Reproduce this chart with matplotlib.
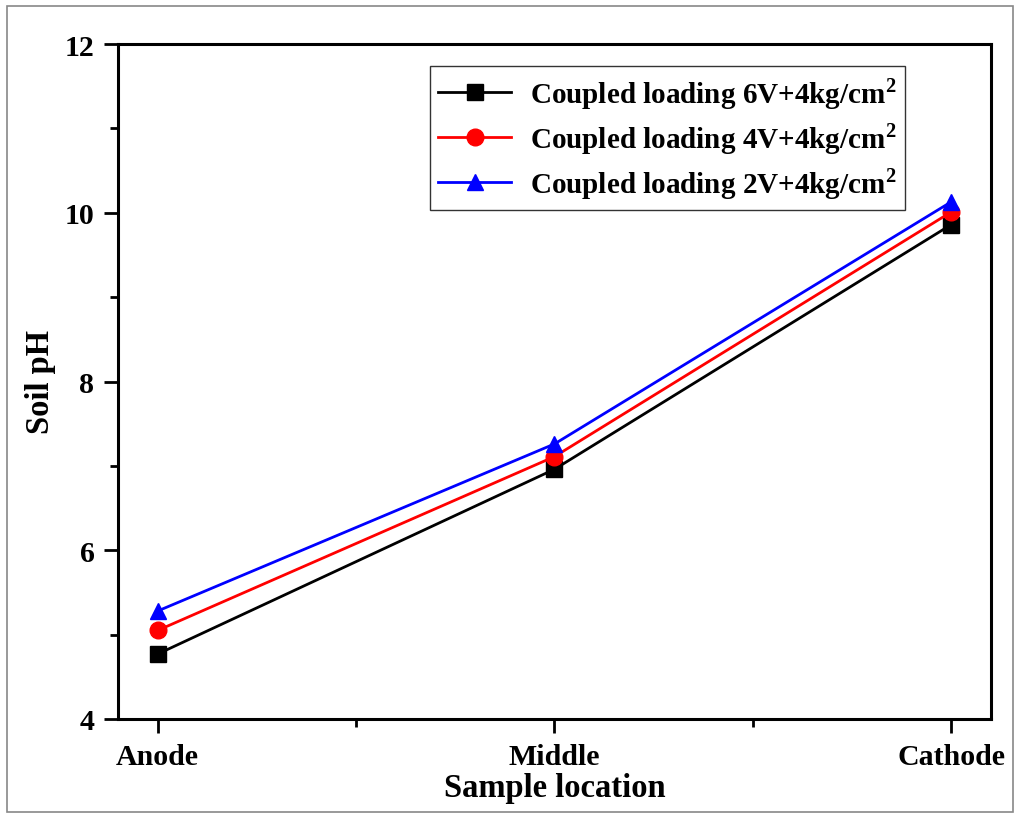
import matplotlib.pyplot as plt
from matplotlib.patches import Rectangle
from matplotlib.ticker import MultipleLocator

plt.rcParams['font.family'] = ['Liberation Serif', 'DejaVu Serif']
plt.rcParams['font.weight'] = 'bold'
plt.rcParams['mathtext.fontset'] = 'custom'
plt.rcParams['mathtext.rm'] = 'Liberation Serif'

locations = ['Anode', 'Middle', 'Cathode']
ph_6v = [4.77, 6.96, 9.86]
ph_4v = [5.05, 7.11, 10.01]
ph_2v = [5.28, 7.26, 10.13]
labels = ['Coupled loading 6V+4kg/cm$^{\\mathrm{2}}$',
          'Coupled loading 4V+4kg/cm$^{\\mathrm{2}}$',
          'Coupled loading 2V+4kg/cm$^{\\mathrm{2}}$']

fig = plt.figure(figsize=(10.2, 8.2), dpi=100)
ax = fig.add_axes([118/1020, 100/820, 873/1020, 675/820])

x = range(len(locations))
ax.plot(x, ph_6v, color='black', marker='s', markersize=11, lw=2, label=labels[0])
ax.plot(x, ph_4v, color='red', marker='o', markersize=12, lw=2, label=labels[1])
ax.plot(x, ph_2v, color='blue', marker='^', markersize=12, lw=2, label=labels[2])

ax.set_xlim(-0.1, 2.1)
ax.set_ylim(4, 12)
ax.set_xticks(list(x))
ax.set_xticklabels(locations)
ax.xaxis.set_minor_locator(MultipleLocator(0.5))
ax.yaxis.set_major_locator(MultipleLocator(2))
ax.yaxis.set_minor_locator(MultipleLocator(1))
ax.tick_params(which='major', direction='out', length=10, width=2, labelsize=21.5, pad=7)
ax.tick_params(which='minor', direction='out', length=6, width=2)
for s in ax.spines.values():
    s.set_linewidth(2.2)

ax.set_xlabel('Sample location', fontsize=23.5, fontweight='bold', labelpad=2)
ax.set_ylabel('Soil pH', fontsize=23.5, fontweight='bold', labelpad=6)

leg = ax.legend(loc='upper right', bbox_to_anchor=(0.902, 0.967), fontsize=21,
                frameon=True, fancybox=False, edgecolor='black', handlelength=2.5,
                handletextpad=0.65, borderpad=0.3, labelspacing=0.32, borderaxespad=0)
leg.get_frame().set_linewidth(1.0)

fig.patches.append(Rectangle((7/1020, 7/820), 1006/1020, 806/820, transform=fig.transFigure,
                             fill=False, edgecolor='#888888', lw=1.2))

fig.savefig('out.png', dpi=100)
